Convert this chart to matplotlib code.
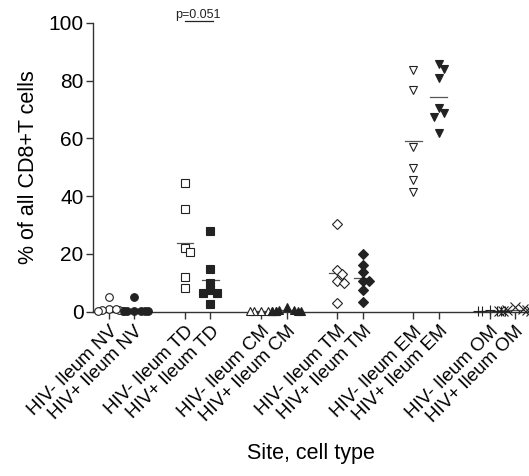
import numpy as np
import matplotlib
matplotlib.use("Agg")
import matplotlib.pyplot as plt

plt.rcParams['font.family'] = ['Liberation Sans', 'DejaVu Sans']

# data (% of all CD8+ T cells)
labels = ['HIV- Ileum NV', 'HIV+ Ileum NV', 'HIV- Ileum TD', 'HIV+ Ileum TD',
          'HIV- Ileum CM', 'HIV+ Ileum CM', 'HIV- Ileum TM', 'HIV+ Ileum TM',
          'HIV- Ileum EM', 'HIV+ Ileum EM', 'HIV- Ileum OM', 'HIV+ Ileum OM']
positions = [0, 1, 3, 4, 6, 7, 9, 10, 12, 13, 15, 16]

nv_neg = [5.0, 1.0, 0.6, 0.3, 0.2, 0.5, 0.8]
nv_pos = [5.0, 0.3, 0.2, 0.1, 0.4, 0.2, 0.3]
td_neg = [44.4, 35.6, 22.0, 20.6, 12.1, 8.2]
td_pos = [28.0, 14.9, 10.1, 7.4, 6.5, 6.5, 2.8]
cm_neg = [0.3, 0.1, 0.2, 0.4, 0.1, 0.2]
cm_pos = [1.5, 0.5, 0.3, 0.2, 0.4, 0.6, 0.3]
tm_neg = [30.4, 14.5, 13.1, 10.5, 9.8, 3.0]
tm_pos = [20.1, 16.2, 13.6, 10.5, 10.5, 7.6, 3.4]
em_neg = [83.7, 76.7, 57.2, 49.8, 45.7, 41.4]
em_pos = [85.8, 84.0, 81.0, 70.5, 68.8, 67.4, 61.8]
om_neg = [0.5, 0.3, 0.2, 0.4, 0.3, 0.1]
om_pos = [1.5, 0.8, 0.3, 0.5, 0.2, 0.4, 0.6]

groups = [nv_neg, nv_pos, td_neg, td_pos, cm_neg, cm_pos,
          tm_neg, tm_pos, em_neg, em_pos, om_neg, om_pos]
markers = ['o', 'o', 's', 's', '^', '^', 'D', 'D', 'v', 'v', '+', 'x']
filled = [False, True] * 6
sizes = [5.5, 5.5, 5.5, 5.5, 6, 6, 4.6, 4.6, 6, 6, 6.5, 6.5]

fig = plt.figure(figsize=(5.29, 4.76), dpi=100)
ax = fig.add_axes([0.176, 0.345, 0.824, 0.607])
xmin, xmax = -0.62, 16.55
ax.set_xlim(xmin, xmax)
ax.set_ylim(0, 100)

# pixel scale used for the swarm layout
bbox = ax.get_window_extent()
px_x = bbox.width / (xmax - xmin)
px_y = bbox.height / 100.0


def squash(d, knee=5.0, k=0.3):
    a = abs(d)
    if a > knee:
        a = knee + (a - knee) * k
    return np.sign(d) * a


def swarm(vals, diam):
    # GraphPad-like column scatter; wide clusters get squeezed so they overlap
    order = np.argsort(vals)[::-1]
    placed = []
    offs = np.zeros(len(vals))
    step = diam * 0.75
    for i in order:
        y = vals[i] * px_y
        for k in range(0, 30):
            cand = 0 if k == 0 else ((k + 1) // 2) * step * (1 if k % 2 else -1)
            if all((cand - px) ** 2 + (y - py) ** 2 >= (diam * 0.9) ** 2 for px, py in placed):
                break
        placed.append((cand, y))
        offs[i] = squash(cand) / px_x
    return offs


dark = '#222222'
for vals, pos, m, f, s in zip(groups, positions, markers, filled, sizes):
    vals = np.array(vals)
    diam = s * 100 / 72.0
    xs = pos + swarm(vals, diam)
    if m in ('+', 'x'):
        ax.plot(xs, vals, ls='none', marker=m, ms=s, mew=0.8, color=dark, clip_on=False, zorder=3)
    else:
        ax.plot(xs, vals, ls='none', marker=m, ms=s, mew=0.8, mec=dark,
                mfc=dark if f else 'white', clip_on=False, zorder=3)
    mean = vals.mean()
    ax.plot([pos - 0.33, pos + 0.33], [mean, mean], color='#555555', lw=0.9, zorder=2, clip_on=False)

# significance bar
ax.plot([3, 4.1], [100.8, 100.8], color=dark, lw=0.9, clip_on=False)
ax.text(3.5, 100.6, 'p=0.051', ha='center', va='bottom', fontsize=9, color=dark)

for side in ('top', 'right'):
    ax.spines[side].set_visible(False)
for side in ('left', 'bottom'):
    ax.spines[side].set_linewidth(1.0)
    ax.spines[side].set_color('#333333')

ax.set_yticks([0, 20, 40, 60, 80, 100])
ax.tick_params(axis='y', labelsize=15, length=5, width=1, color='#333333', pad=2)
ax.set_xticks(positions)
ax.set_xticklabels(labels, rotation=45, ha='right', rotation_mode='anchor', fontsize=13.5)
ax.tick_params(axis='x', length=5, width=1, color='#333333', pad=3)

ax.set_ylabel('% of all CD8+T cells', fontsize=15.5, labelpad=7)
fig.text(0.5 + 0.088, 0.025, 'Site, cell type', ha='center', va='bottom', fontsize=15.5)

fig.savefig('out.png', dpi=100)
